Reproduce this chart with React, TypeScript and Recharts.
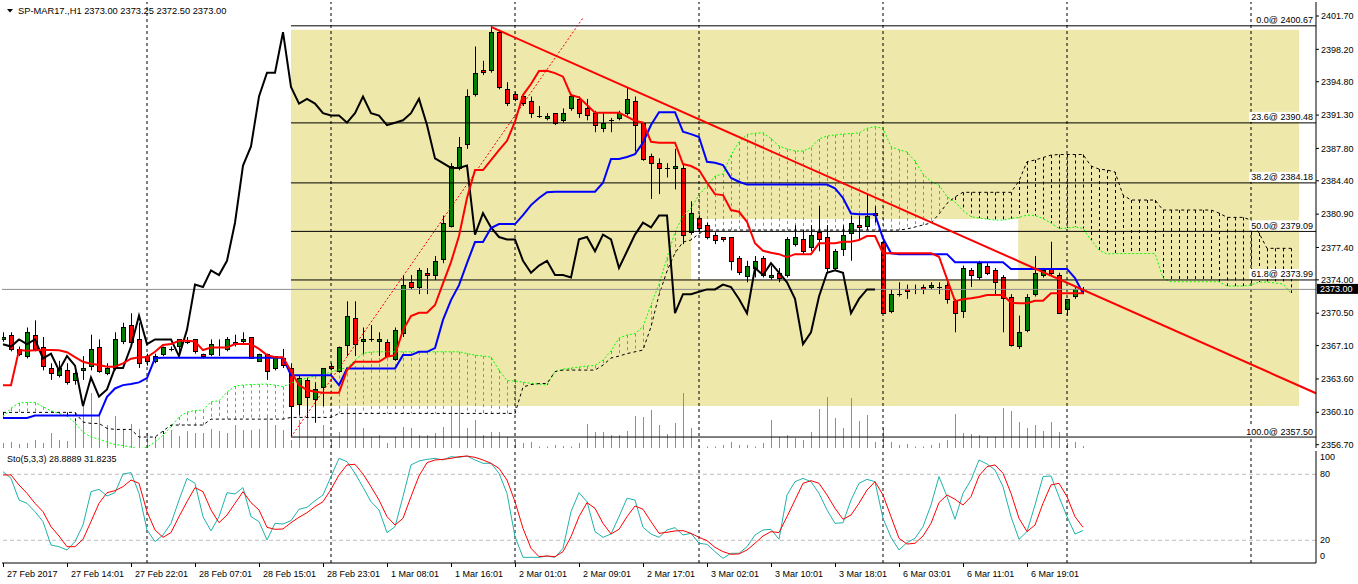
import React from 'react';
import { ComposedChart, Bar, Line, XAxis, YAxis, ReferenceLine, ReferenceArea } from 'recharts';

// ---------- candles (H1 bars, index 0 = 27 Feb 2017 00:00) ----------
const OPEN = [
  2367.75, 2368.25, 2366.75, 2366.0, 2368.25, 2367.0, 2364.75, 2364.0, 2364.5, 2363.5,
  2364.5, 2365.0, 2367.0, 2364.25, 2364.75, 2367.5, 2369.25, 2367.75, 2366.0, 2365.5,
  2366.25, 2366.75, 2367.0, 2367.5, 2367.75, 2366.25, 2366.25, 2367.0, 2366.75, 2367.5,
  2367.5, 2368.0, 2365.5, 2366.25, 2364.75, 2365.75, 2364.75, 2361.0, 2363.5, 2361.5,
  2362.75, 2365.0, 2364.5, 2367.25, 2370.0, 2367.5, 2367.75, 2367.5, 2367.5, 2365.75,
  2368.5, 2373.75, 2373.25, 2374.75, 2374.5, 2376.25, 2379.75, 2385.75, 2388.25, 2393.5,
  2396.0, 2396.0, 2400.0, 2394.0, 2393.5, 2393.25, 2392.75, 2391.25, 2391.0, 2391.5,
  2390.75, 2392.0, 2393.0, 2392.0, 2391.5, 2390.0, 2390.75, 2391.0, 2391.5, 2392.75,
  2390.5, 2387.0, 2386.25, 2385.75, 2385.75, 2385.75, 2379.0, 2380.5, 2379.75, 2378.75,
  2378.5, 2378.5, 2376.25, 2374.5, 2375.25, 2376.25, 2374.25, 2374.75, 2374.5, 2377.75,
  2378.25, 2377.5, 2379.0, 2378.5, 2375.25, 2377.25, 2379.0, 2379.75, 2379.75, 2381.0,
  2378.0, 2370.75, 2372.5, 2373.0, 2373.0, 2373.25, 2373.25, 2373.25, 2373.5, 2371.75,
  2370.75, 2375.0, 2374.25, 2375.5, 2375.0, 2374.25, 2372.25, 2367.0, 2368.75, 2372.5,
  2374.5, 2375.25, 2374.5, 2371.0, 2372.25, 2373.0,
];
const HIGH = [
  2368.5, 2368.5, 2367.0, 2369.0, 2369.75, 2368.0, 2365.25, 2365.5, 2365.25, 2365.0,
  2366.0, 2368.25, 2367.75, 2365.25, 2368.5, 2369.5, 2370.5, 2369.5, 2366.25, 2366.25,
  2367.0, 2367.0, 2367.75, 2368.0, 2367.75, 2366.25, 2367.75, 2367.75, 2368.0, 2368.25,
  2368.5, 2368.0, 2366.25, 2366.25, 2366.0, 2366.75, 2365.25, 2364.0, 2363.75, 2363.25,
  2364.75, 2365.25, 2367.0, 2371.75, 2371.75, 2369.0, 2369.25, 2368.5, 2367.75, 2369.0,
  2374.5, 2374.5, 2375.25, 2375.25, 2376.5, 2380.75, 2386.25, 2389.0, 2394.0, 2398.5,
  2397.0, 2400.67, 2400.25, 2394.75, 2393.75, 2393.5, 2393.25, 2392.25, 2391.5, 2391.5,
  2392.0, 2393.5, 2393.25, 2393.0, 2391.75, 2391.5, 2391.0, 2391.75, 2394.25, 2393.25,
  2390.5, 2387.25, 2386.75, 2386.25, 2387.75, 2386.25, 2382.25, 2380.75, 2380.0, 2379.0,
  2378.5, 2378.5, 2376.5, 2376.0, 2376.5, 2376.5, 2375.5, 2375.25, 2378.5, 2379.75,
  2379.25, 2379.75, 2381.75, 2379.75, 2377.25, 2379.75, 2380.75, 2380.75, 2383.0, 2381.75,
  2378.25, 2373.0, 2373.75, 2373.5, 2373.5, 2373.5, 2373.75, 2373.75, 2373.75, 2372.0,
  2375.5, 2375.25, 2376.0, 2375.75, 2375.25, 2374.5, 2372.5, 2370.25, 2372.5, 2376.5,
  2375.25, 2378.0, 2374.75, 2372.0, 2373.25, 2373.25,
];
const LOW = [
  2367.5, 2366.5, 2366.0, 2365.75, 2366.5, 2364.5, 2363.5, 2363.75, 2363.0, 2363.0,
  2363.5, 2364.5, 2364.25, 2364.0, 2364.5, 2367.25, 2367.25, 2364.75, 2365.0, 2365.25,
  2366.0, 2366.5, 2366.0, 2367.25, 2366.25, 2365.75, 2366.0, 2366.0, 2366.5, 2367.0,
  2367.25, 2365.75, 2365.5, 2363.5, 2364.5, 2364.75, 2357.5, 2359.75, 2359.5, 2359.0,
  2360.75, 2364.5, 2364.25, 2366.0, 2366.0, 2366.25, 2367.5, 2366.0, 2366.0, 2365.5,
  2368.0, 2373.0, 2372.5, 2372.5, 2374.0, 2375.75, 2379.5, 2385.5, 2387.75, 2393.25,
  2395.5, 2395.75, 2394.0, 2392.25, 2392.75, 2392.25, 2391.0, 2391.0, 2390.75, 2390.25,
  2390.5, 2391.75, 2391.0, 2390.75, 2389.5, 2389.5, 2389.5, 2390.75, 2391.25, 2387.5,
  2386.5, 2382.5, 2383.0, 2384.75, 2383.5, 2377.75, 2378.75, 2379.0, 2378.25, 2377.75,
  2378.0, 2375.0, 2374.5, 2373.75, 2374.25, 2374.25, 2374.0, 2373.75, 2374.25, 2377.5,
  2376.75, 2377.0, 2377.0, 2374.75, 2375.0, 2376.5, 2376.0, 2378.25, 2379.25, 2380.0,
  2370.5, 2370.5, 2372.25, 2372.0, 2372.5, 2372.5, 2373.0, 2372.5, 2371.5, 2368.5,
  2370.0, 2373.25, 2374.0, 2374.5, 2372.5, 2368.5, 2367.0, 2366.75, 2368.5, 2372.25,
  2374.25, 2374.5, 2370.5, 2370.25, 2372.0, 2372.5,
];
const CLOSE = [
  2368.0, 2366.75, 2366.25, 2368.5, 2366.75, 2365.0, 2364.25, 2364.75, 2363.25, 2364.25,
  2364.75, 2366.75, 2364.5, 2364.75, 2367.75, 2369.0, 2367.5, 2365.25, 2365.5, 2366.0,
  2367.0, 2366.75, 2367.75, 2367.5, 2366.5, 2366.0, 2367.25, 2367.0, 2367.75, 2367.25,
  2367.75, 2365.75, 2366.25, 2364.5, 2366.0, 2365.0, 2360.75, 2363.75, 2361.75, 2362.5,
  2364.75, 2364.75, 2367.0, 2370.25, 2367.25, 2367.75, 2367.75, 2367.75, 2366.0, 2368.75,
  2373.5, 2373.25, 2375.0, 2374.5, 2376.0, 2380.0, 2386.0, 2388.0, 2393.25, 2395.75,
  2395.75, 2400.0, 2394.25, 2392.5, 2393.0, 2392.5, 2391.5, 2391.25, 2391.25, 2390.5,
  2391.5, 2393.25, 2391.5, 2391.25, 2390.25, 2390.5, 2390.75, 2391.5, 2393.0, 2390.25,
  2386.75, 2386.25, 2385.75, 2385.75, 2386.0, 2378.75, 2381.0, 2379.5, 2378.5, 2378.25,
  2378.25, 2376.0, 2374.75, 2375.5, 2376.0, 2374.5, 2374.5, 2374.25, 2378.25, 2378.5,
  2377.0, 2378.75, 2378.25, 2375.25, 2377.0, 2378.75, 2380.0, 2379.5, 2380.75, 2380.75,
  2370.5, 2372.5, 2372.5, 2372.75, 2373.0, 2373.0, 2373.5, 2373.25, 2372.0, 2370.5,
  2375.25, 2374.5, 2375.75, 2374.75, 2373.75, 2372.0, 2367.25, 2368.5, 2372.25, 2374.75,
  2375.0, 2374.75, 2370.5, 2372.0, 2373.0, 2373.0,
];
const VOLUME = [
  500, 600, 400, 500, 800, 500, 1500, 800, 700, 2700,
  4500, 5500, 3200, 2300, 3200, 1800, 2400, 1900, 1500, 1000,
  1300, 1800, 1200, 1700, 1500, 1500, 1900, 1700, 1500, 2300,
  1800, 1800, 1900, 3200, 2300, 1800, 800, 2800, 3100, 1100,
  2300, 800, 1600, 4100, 3800, 2000, 1100, 1300, 500, 1100,
  2100, 2000, 1300, 1300, 1500, 2100, 4100, 4500, 2000, 2800,
  1300, 1600, 1600, 1100, 600, 500, 600, 150, 150, 300,
  200, 150, 500, 2400, 1600, 1600, 1300, 1300, 1700, 3200,
  3100, 3800, 2300, 1400, 2500, 5500, 2000, 150, 150, 150,
  300, 600, 300, 300, 150, 500, 2800, 1100, 1300, 1000,
  800, 1600, 3900, 5100, 3000, 2000, 5000, 2700, 3300, 600,
  2000, 600, 300, 400, 150, 150, 300, 500, 800, 3400,
  1500, 1400, 1300, 1100, 1100, 4000, 3700, 2600, 2000, 2300,
  1700, 2600, 1600, 500, 600, 200,
];

// ---------- Ichimoku (9, 26, 52) ----------
const TENKAN = [
  2362.95, 2362.95, 2366.63, 2366.55, 2366.6, 2366.63, 2366.63, 2366.6, 2366.4, 2365.9,
  2365.4, 2365.2, 2365.06, 2364.88, 2364.88, 2365.23, 2365.72, 2365.87, 2365.87, 2366.45,
  2367.16, 2367.26, 2367.6, 2367.6, 2367.53, 2366.63, 2366.9, 2366.9, 2366.9, 2367.26,
  2367.26, 2367.26, 2366.75, 2366.1, 2365.87, 2365.87, 2364.4, 2362.95, 2362.43, 2362.25,
  2362.15, 2362.15, 2362.15, 2364.53, 2365.4, 2365.4, 2365.4, 2365.4, 2365.93, 2366.1,
  2368.73, 2370.2, 2370.55, 2370.55, 2371.36, 2373.63, 2375.87, 2378.6, 2382.6, 2385.53,
  2385.53, 2386.58, 2387.63, 2388.6, 2390.6, 2393.4, 2394.56, 2395.93, 2395.96, 2395.7,
  2395.33, 2393.4, 2393.16, 2392.36, 2391.55, 2391.55, 2391.55, 2391.55, 2391.13, 2390.7,
  2390.5, 2388.5, 2388.4, 2388.4, 2388.4, 2386.16, 2385.95, 2385.53, 2384.2, 2383.0,
  2382.9, 2381.33, 2381.15, 2380.1, 2377.84, 2377.06, 2376.85, 2376.7, 2376.37, 2376.7,
  2376.7, 2376.7, 2377.84, 2377.84, 2377.84, 2378.0, 2378.0, 2378.18, 2378.6, 2378.6,
  2376.8, 2376.8, 2376.8, 2376.8, 2376.8, 2376.8, 2376.8, 2376.43, 2374.1, 2371.77,
  2371.96, 2372.06, 2372.2, 2372.4, 2372.4, 2372.4, 2371.6, 2371.54, 2371.54, 2371.8,
  2371.8, 2372.59, 2372.59, 2372.59, 2372.59, 2372.59,
];
const KIJUN = [
  2359.5, 2359.5, 2359.5, 2359.5, 2359.75, 2359.75, 2359.75, 2359.75, 2359.75, 2359.75,
  2359.75, 2359.75, 2359.75, 2361.73, 2362.6, 2362.95, 2363.06, 2363.24, 2363.69, 2365.79,
  2365.82, 2365.82, 2365.82, 2365.82, 2365.82, 2365.82, 2365.82, 2365.82, 2365.82, 2365.82,
  2365.82, 2365.82, 2365.82, 2365.82, 2365.82, 2365.82, 2364.0, 2364.0, 2364.0, 2364.0,
  2364.0, 2364.0, 2362.95, 2364.7, 2364.7, 2364.7, 2364.7, 2364.7, 2364.7, 2364.7,
  2366.1, 2366.1, 2366.45, 2366.45, 2366.84, 2369.8, 2371.88, 2373.45, 2375.76, 2377.97,
  2377.97, 2379.44, 2379.86, 2379.86, 2379.86, 2380.8, 2381.85, 2382.6, 2383.2, 2383.25,
  2383.25, 2383.25, 2383.25, 2383.25, 2383.25, 2384.2, 2386.7, 2386.7, 2386.9, 2387.2,
  2388.4, 2390.25, 2391.6, 2391.6, 2391.6, 2389.55, 2389.3, 2389.0, 2386.4, 2386.3,
  2386.05, 2384.7, 2384.3, 2384.0, 2384.0, 2384.0, 2384.0, 2384.0, 2384.0, 2384.0,
  2384.0, 2384.0, 2384.0, 2384.0, 2383.6, 2382.6, 2380.97, 2380.9, 2380.9, 2380.9,
  2378.36, 2376.8, 2376.7, 2376.7, 2376.7, 2376.7, 2376.7, 2376.7, 2376.7, 2375.85,
  2375.85, 2375.85, 2375.85, 2375.85, 2375.85, 2375.85, 2375.15, 2375.15, 2375.15, 2375.15,
  2375.15, 2375.15, 2375.15, 2375.15, 2374.2, 2372.6,
];
const CHIKOU = [
  2367.25, 2367.0, 2367.75, 2367.25, 2367.75, 2365.75, 2366.25, 2364.5, 2366.0, 2365.0,
  2360.75, 2363.75, 2361.75, 2362.5, 2364.75, 2364.75, 2367.0, 2370.25, 2367.25, 2367.75,
  2367.75, 2367.75, 2366.0, 2368.75, 2373.5, 2373.25, 2375.0, 2374.5, 2376.0, 2380.0,
  2386.0, 2388.0, 2393.25, 2395.75, 2395.75, 2400.0, 2394.25, 2392.5, 2393.0, 2392.5,
  2391.5, 2391.25, 2391.25, 2390.5, 2391.5, 2393.25, 2391.5, 2391.25, 2390.25, 2390.5,
  2390.75, 2391.5, 2393.0, 2390.25, 2386.75, 2386.25, 2385.75, 2385.75, 2386.0, 2378.75,
  2381.0, 2379.5, 2378.5, 2378.25, 2378.25, 2376.0, 2374.75, 2375.5, 2376.0, 2374.5,
  2374.5, 2374.25, 2378.25, 2378.5, 2377.0, 2378.75, 2378.25, 2375.25, 2377.0, 2378.75,
  2380.0, 2379.5, 2380.75, 2380.75, 2370.5, 2372.5, 2372.5, 2372.75, 2373.0, 2373.0,
  2373.5, 2373.25, 2372.0, 2370.5, 2375.25, 2374.5, 2375.75, 2374.75, 2373.75, 2372.0,
  2367.25, 2368.5, 2372.25, 2374.75, 2375.0, 2374.75, 2370.5, 2372.0, 2373.0, 2373.0,
];
const SPAN_A = [
  2359.6, 2360.54, 2361.07, 2361.14, 2361.14, 2360.68, 2360.26, 2359.96, 2359.7, 2358.97,
  2358.02, 2357.5, 2357.29, 2356.97, 2356.71, 2356.6, 2356.45, 2356.24, 2356.45, 2356.97,
  2357.7, 2358.6, 2359.6, 2360.12, 2360.28, 2360.33, 2361.2, 2361.3, 2362.22, 2362.85,
  2362.96, 2363.01, 2363.04, 2363.06, 2362.96, 2362.78, 2363.17, 2363.48, 2363.69, 2363.9,
  2364.06, 2364.32, 2364.58, 2364.79, 2365.58, 2366.28, 2366.42, 2366.45, 2366.45, 2366.45,
  2366.45, 2366.45, 2366.45, 2366.45, 2366.45, 2366.45, 2366.45, 2366.45, 2366.26, 2366.1,
  2366.0, 2365.89, 2364.53, 2363.43, 2363.38, 2363.27, 2363.13, 2363.06, 2362.96, 2364.37,
  2364.63, 2364.74, 2364.85, 2364.95, 2365.02, 2365.58, 2366.53, 2367.89, 2368.21, 2368.36,
  2369.08, 2371.36, 2373.56, 2376.29, 2379.02, 2380.7, 2381.54, 2382.91, 2383.85, 2384.9,
  2385.11, 2387.11, 2388.47, 2389.26, 2389.38, 2389.45, 2388.84, 2388.05, 2387.74, 2387.53,
  2387.53, 2387.89, 2388.79, 2389.1, 2389.21, 2389.31, 2389.36, 2389.42, 2389.91, 2390.08,
  2389.91, 2387.98, 2387.66, 2387.42, 2386.47, 2385.11, 2384.32, 2383.96, 2382.73, 2382.17,
  2381.28, 2380.63, 2380.49, 2380.38, 2380.28, 2380.28, 2380.44, 2380.56, 2380.8, 2380.75,
  2380.44, 2379.97, 2379.39, 2379.44, 2379.55, 2379.41, 2378.18, 2377.13, 2376.71, 2376.76,
  2376.76, 2376.76, 2376.76, 2376.76, 2376.76, 2374.19, 2373.8, 2373.8, 2373.8, 2373.8,
  2373.8, 2373.8, 2373.8, 2373.35, 2373.35, 2373.35, 2373.46, 2373.77, 2373.77, 2373.67,
  2373.56, 2372.62,
];
const SPAN_B = [
  2360.09, 2360.09, 2360.09, 2360.09, 2360.09, 2360.09, 2360.09, 2360.09, 2360.09, 2360.09,
  2359.07, 2358.93, 2358.93, 2358.41, 2358.3, 2358.3, 2358.3, 2357.5, 2357.5, 2357.5,
  2358.13, 2358.76, 2358.76, 2358.76, 2358.76, 2358.76, 2359.38, 2359.38, 2359.38, 2359.38,
  2359.38, 2359.38, 2359.38, 2359.38, 2359.38, 2359.38, 2359.56, 2359.56, 2359.56, 2359.56,
  2359.56, 2359.56, 2359.98, 2359.98, 2359.98, 2359.98, 2359.98, 2359.98, 2359.98, 2359.98,
  2359.98, 2359.98, 2359.98, 2359.98, 2359.98, 2359.98, 2359.98, 2359.98, 2359.98, 2359.98,
  2359.98, 2359.98, 2359.98, 2359.98, 2359.98, 2362.75, 2363.01, 2363.11, 2363.13, 2364.37,
  2364.53, 2364.53, 2364.53, 2364.53, 2364.53, 2365.05, 2365.79, 2366.0, 2366.26, 2366.45,
  2366.63, 2369.08, 2372.41, 2374.92, 2376.82, 2377.97, 2378.18, 2378.86, 2379.23, 2379.23,
  2379.23, 2379.23, 2379.23, 2379.23, 2379.23, 2379.23, 2379.23, 2379.23, 2379.23, 2379.23,
  2379.23, 2379.23, 2379.23, 2379.23, 2379.23, 2379.23, 2379.23, 2379.23, 2379.23, 2379.23,
  2379.23, 2379.23, 2379.23, 2379.34, 2379.55, 2379.76, 2379.97, 2380.91, 2382.03, 2382.7,
  2383.19, 2383.19, 2383.19, 2383.19, 2383.19, 2383.19, 2383.19, 2384.38, 2386.4, 2386.58,
  2386.84, 2387.1, 2387.16, 2387.16, 2387.16, 2387.16, 2385.95, 2385.63, 2385.53, 2385.32,
  2382.91, 2382.38, 2382.38, 2382.38, 2382.38, 2381.33, 2381.33, 2381.33, 2381.33, 2381.33,
  2381.33, 2381.33, 2381.02, 2380.56, 2380.56, 2380.56, 2380.28, 2378.92, 2377.31, 2377.31,
  2377.31, 2377.31,
];

// ---------- Stochastic (5,3,3) ----------
const STOCH_K = [
  82.4, 76.3, 56.6, 53.6, 46.0, 37.0, 15.7, 14.2, 11.2, 18.8,
  33.9, 64.2, 66.3, 60.3, 63.3, 80.3, 81.5, 62.7, 29.4, 18.8,
  24.8, 35.4, 56.6, 76.3, 71.8, 41.5, 28.5, 41.5, 63.3, 62.1,
  67.9, 41.5, 37.0, 20.3, 35.4, 34.8, 37.9, 48.2, 50.0, 56.0,
  61.2, 77.9, 94.5, 91.5, 80.9, 68.2, 55.1, 47.6, 27.0, 32.4,
  59.7, 88.5, 92.1, 93.6, 94.5, 93.0, 96.0, 95.4, 96.6, 93.0,
  90.0, 90.0, 80.9, 62.7, 23.3, 4.5, 4.5, 4.5, 5.7, 4.5,
  12.7, 46.0, 63.3, 55.1, 27.9, 22.7, 25.7, 41.5, 58.2, 56.6,
  31.8, 25.7, 22.7, 29.4, 31.5, 24.8, 26.3, 17.3, 16.3, 9.7,
  3.6, 8.2, 8.2, 14.2, 24.8, 29.4, 30.0, 20.9, 61.2, 73.3,
  76.3, 73.3, 62.7, 47.6, 35.4, 36.0, 56.6, 71.8, 75.4, 73.3,
  40.0, 22.7, 11.2, 17.9, 21.8, 32.4, 52.1, 77.9, 59.7, 39.1,
  62.7, 74.8, 93.0, 89.4, 83.9, 68.8, 41.5, 20.9, 27.9, 52.1,
  77.9, 78.5, 59.7, 41.5, 25.7, 28.8889,
];
const STOCH_D = [
  79.4, 79.4, 70.3, 62.7, 53.6, 46.0, 32.4, 23.9, 14.2, 14.2,
  20.9, 37.0, 53.6, 63.3, 65.1, 68.8, 74.8, 71.8, 46.0, 29.4,
  22.7, 27.0, 41.5, 55.1, 67.9, 64.2, 47.6, 36.0, 43.0, 53.6,
  64.2, 54.2, 47.6, 31.8, 30.0, 30.3, 36.0, 40.9, 45.1, 50.6,
  55.1, 66.3, 79.4, 88.5, 89.1, 80.3, 68.8, 56.6, 41.5, 33.9,
  40.0, 59.7, 78.5, 90.6, 93.0, 93.6, 94.5, 96.0, 96.6, 95.4,
  93.0, 90.0, 85.4, 74.8, 55.1, 30.9, 12.7, 5.1, 5.7, 5.1,
  9.7, 23.3, 41.5, 54.2, 49.1, 35.4, 25.7, 30.0, 41.5, 51.2,
  48.2, 37.0, 26.3, 27.3, 28.5, 28.8, 26.3, 22.7, 19.7, 13.6,
  9.7, 7.3, 7.6, 11.2, 17.3, 23.9, 27.9, 27.0, 41.5, 56.6,
  71.8, 74.2, 71.8, 61.2, 49.1, 39.1, 43.0, 53.6, 65.7, 73.3,
  61.2, 41.5, 21.8, 16.6, 17.3, 23.9, 35.4, 54.2, 61.2, 57.3,
  52.1, 59.7, 78.5, 87.0, 88.5, 80.9, 62.7, 40.0, 27.9, 33.9,
  53.6, 70.3, 71.8, 59.7, 41.5, 31.8235,
];

// ---------- axis labels ----------
const DATE_TICKS = [0, 8, 16, 24, 32, 40, 48, 56, 64, 72, 80, 88, 96, 104, 112, 120, 128];
const DATE_LABELS = [
  '27 Feb 2017', '27 Feb 14:01', '27 Feb 22:01', '28 Feb 07:01', '28 Feb 15:01', '28 Feb 23:01',
  '1 Mar 08:01', '1 Mar 16:01', '2 Mar 01:01', '2 Mar 09:01', '2 Mar 17:01', '3 Mar 02:01',
  '3 Mar 10:01', '3 Mar 18:01', '6 Mar 03:01', '6 Mar 11:01', '6 Mar 19:01',
];
const PRICE_TICKS = [2401.7, 2398.2, 2394.8, 2391.3, 2387.8, 2384.4, 2380.9, 2377.4, 2374.0, 2370.5, 2367.1, 2363.6, 2360.1, 2356.7];
const STOCH_TICKS = [0, 20, 80, 100];
const STOCH_LEVELS = [20, 80];
const GRID_BARS = [18, 41, 64, 87, 110, 133, 156];

// ---------- drawn objects ----------
const FIB_START = 36;
const FIB_LEVELS = [
  { pct: '0.0', price: 2400.67 },
  { pct: '23.6', price: 2390.48 },
  { pct: '38.2', price: 2384.18 },
  { pct: '50.0', price: 2379.09 },
  { pct: '61.8', price: 2373.99 },
  { pct: '100.0', price: 2357.5 },
];
const FIB_BASE = [{ x: 36, y: 2357.5 }, { x: 72.5, y: 2401.5 }];
const TREND = [{ x: 61, y: 2400.55 }, { x: 164.125, y: 2362.1 }];
const YELLOW_BOX = { x1: 36, x2: 162, y1: 2360.75, y2: 2400.25 };
const WHITE_BOX = { x1: 86, x2: 126.9, y1: 2374.0, y2: 2380.4 };

const X_DOMAIN: [number, number] = [-0.125, 164.125];
const P_DOMAIN: [number, number] = [2356.35, 2403.17];
const S_DOMAIN: [number, number] = [-0.64, 101.18];
const V_DOMAIN: [number, number] = [0, 44600];

const rows = SPAN_A.map((a, i) => ({
  i,
  o: OPEN[i] ?? null,
  h: HIGH[i] ?? null,
  l: LOW[i] ?? null,
  c: CLOSE[i] ?? null,
  tenkan: TENKAN[i] ?? null,
  kijun: KIJUN[i] ?? null,
  chikou: CHIKOU[i] ?? null,
  a,
  b: SPAN_B[i],
  v: VOLUME[i] ?? null,
  k: STOCH_K[i] ?? null,
  d: STOCH_D[i] ?? null,
}));

const FONT = "'Liberation Sans', Arial, sans-serif";

const lineBox = (vb: any) => {
  if (!vb) return { x1: 0, x2: 0, y: 0 };
  if (vb.x1 != null) return { x1: Math.min(vb.x1, vb.x2), x2: Math.max(vb.x1, vb.x2), y: vb.y1 };
  return { x1: vb.x, x2: vb.x + (vb.width || 0), y: vb.y };
};

function Candle(props: any) {
  const { x, y, width, height, payload } = props;
  if (!payload || payload.o == null || x == null || y == null) return <g />;
  const { o, h, l, c } = payload;
  const top = Math.min(y, y + height);
  const bot = Math.max(y, y + height);
  const span = h - l || 1;
  const py = (p: number) => top + ((h - p) / span) * (bot - top);
  const n = Math.round(x + width / 2);
  const cx = n + 0.5;
  const yo = py(o);
  const yc = py(c);
  const bt = Math.min(yo, yc);
  const bb = Math.max(yo, yc);
  const fill = c > o ? '#008000' : '#FF0000';
  return (
    <g>
      <line x1={cx} x2={cx} y1={top} y2={bot} stroke="#000" strokeWidth={1} />
      {Math.abs(c - o) < 0.01 ? (
        <line x1={n - 2} x2={n + 3} y1={Math.round(yo) + 0.5} y2={Math.round(yo) + 0.5} stroke="#000" strokeWidth={1} />
      ) : (
        <rect x={n - 1.5} y={Math.round(bt) + 0.5} width={4} height={Math.max(Math.round(bb - bt), 1)} fill={fill} stroke="#000" strokeWidth={1} />
      )}
    </g>
  );
}

function Hatch(props: any) {
  const { x, y, width, height, payload } = props;
  if (!payload || payload.a == null || x == null || y == null) return <g />;
  const n = Math.round(x + width / 2);
  const top = Math.min(y, y + height);
  const bot = Math.max(y, y + height);
  const up = payload.a >= payload.b;
  const segs: any[] = [];
  for (let s = top; s < bot; s += 6) {
    segs.push(<rect key={s} x={n} y={s} width={1} height={Math.min(3, bot - s)} fill={up ? '#00F000' : '#000000'} />);
  }
  return <g>{segs}</g>;
}

function VolumeStick(props: any) {
  const { x, y, width, height, payload } = props;
  if (!payload || payload.v == null || x == null || y == null) return <g />;
  const n = Math.round(x + width / 2);
  const top = Math.min(y, y + height);
  const h = Math.abs(height);
  return <rect x={n} y={top} width={1} height={h} fill="#3CC83C" />;
}

const fibLabel = (text: string) => (props: any) => {
  const { x2, y } = lineBox(props.viewBox);
  const w = text.length * 4.75 + 3;
  return (
    <g>
      <rect x={x2 - 2 - w} y={y - 11} width={w + 1} height={10} fill="#fff" />
      <text x={x2 - 3} y={y - 2.5} textAnchor="end" fontSize={9} fontFamily={FONT} fill="#000">{text}</text>
    </g>
  );
};

const lastClose = CLOSE[CLOSE.length - 1];
const priceBox = (props: any) => {
  const { x2, y } = lineBox(props.viewBox);
  return (
    <g>
      <rect x={x2 + 1} y={y - 5.5} width={42} height={10} fill="#000" />
      <text x={x2 + 4} y={y + 3} fontSize={9} fontFamily={FONT} fill="#fff">{lastClose.toFixed(2)}</text>
    </g>
  );
};

const DateTick = (p: any) => {
  const idx = DATE_TICKS.indexOf(p.payload.value);
  const x = Math.round(p.x) + 0.5;
  return (
    <g>
      <line x1={x} x2={x} y1={p.y} y2={p.y + 4} stroke="#000" />
      <text x={p.x + 4} y={p.y + 13.5} fontSize={9} fontFamily={FONT} fill="#000">{DATE_LABELS[idx]}</text>
    </g>
  );
};

const StochTick = (p: any) => {
  const v = p.payload.value;
  const off = v === 100 ? 5 : v === 0 ? -6 : 0;
  return (
    <text x={p.x} y={p.y + off + 3} fontSize={9} fontFamily={FONT} fill="#000">{v}</text>
  );
};

export default function App() {
  return (
    <div style={{ position: 'absolute', left: 0, top: 0, width: 1358, height: 584, background: '#fff', fontFamily: FONT }}>
      <div style={{ position: 'absolute', left: 0, top: 0 }}>
        <ComposedChart width={1358} height={449} data={rows} margin={{ top: 2, right: 0, bottom: 1, left: 2 }}>
          <XAxis xAxisId={0} dataKey="i" type="number" domain={X_DOMAIN} allowDataOverflow height={0} tick={false} tickLine={false} axisLine={{ stroke: '#000' }} />
          <XAxis xAxisId="top" orientation="top" dataKey="i" type="number" domain={X_DOMAIN} allowDataOverflow height={0} tick={false} tickLine={false} axisLine={{ stroke: '#000' }} />
          <XAxis xAxisId="hx" dataKey="i" type="number" domain={X_DOMAIN} allowDataOverflow hide />
          <XAxis xAxisId="vx" dataKey="i" type="number" domain={X_DOMAIN} allowDataOverflow hide />
          <YAxis yAxisId="price" orientation="right" width={42} type="number" domain={P_DOMAIN} allowDataOverflow ticks={PRICE_TICKS} interval={0}
            tickFormatter={(v: number) => v.toFixed(2)} tick={{ fontSize: 9, fill: '#000', fontFamily: FONT }} tickSize={3} tickMargin={2}
            tickLine={{ stroke: '#000' }} axisLine={{ stroke: '#000' }} />
          <YAxis yAxisId="left" orientation="left" width={0} type="number" domain={P_DOMAIN} allowDataOverflow tick={false} tickLine={false} axisLine={{ stroke: '#000' }} />
          <YAxis yAxisId="vol" type="number" domain={V_DOMAIN} allowDataOverflow hide />

          <ReferenceArea yAxisId="price" x1={YELLOW_BOX.x1} x2={YELLOW_BOX.x2} y1={YELLOW_BOX.y1} y2={YELLOW_BOX.y2} fill="#EEE8AA" fillOpacity={1} stroke="none" />
          <ReferenceArea yAxisId="price" x1={WHITE_BOX.x1} x2={WHITE_BOX.x2} y1={WHITE_BOX.y1} y2={WHITE_BOX.y2} fill="#FFFFFF" fillOpacity={1} stroke="none" />
          {GRID_BARS.map((g) => (
            <ReferenceLine key={'g' + g} yAxisId="price" x={g} stroke="#000" strokeDasharray="3 3" />
          ))}

          <Bar xAxisId="hx" yAxisId="price" dataKey={(d: any) => (d.a == null ? null : [Math.min(d.a, d.b), Math.max(d.a, d.b)])} barSize={1} shape={<Hatch />} isAnimationActive={false} />
          <Line yAxisId="price" dataKey="a" stroke="#00FF00" strokeWidth={1} strokeDasharray="2 2" dot={false} activeDot={false} isAnimationActive={false} />
          <Line yAxisId="price" dataKey="b" stroke="#000" strokeWidth={1} strokeDasharray="3 3" dot={false} activeDot={false} isAnimationActive={false} />
          <Bar xAxisId="vx" yAxisId="vol" dataKey="v" barSize={1} shape={<VolumeStick />} isAnimationActive={false} />

          {FIB_LEVELS.map((f) => (
            <ReferenceLine key={'f' + f.pct} yAxisId="price" segment={[{ x: FIB_START, y: f.price }, { x: X_DOMAIN[1], y: f.price }]} stroke="#000" strokeWidth={1}
              label={fibLabel(`${f.pct}@ ${f.price.toFixed(2)}`)} />
          ))}
          <ReferenceLine yAxisId="price" y={lastClose} stroke="#8C8C8C" strokeWidth={1} label={priceBox} />

          <Bar xAxisId={0} yAxisId="price" dataKey={(d: any) => (d.o == null ? null : [d.l, d.h])} barSize={5} shape={<Candle />} isAnimationActive={false} />

          <Line yAxisId="price" dataKey="chikou" stroke="#000" strokeWidth={2} dot={false} activeDot={false} isAnimationActive={false} />
          <Line yAxisId="price" dataKey="kijun" stroke="#0000FF" strokeWidth={2} dot={false} activeDot={false} isAnimationActive={false} />
          <Line yAxisId="price" dataKey="tenkan" stroke="#FF0000" strokeWidth={2} dot={false} activeDot={false} isAnimationActive={false} />

          <ReferenceLine yAxisId="price" segment={FIB_BASE} stroke="#FF0000" strokeWidth={1} strokeDasharray="2 2" />
          <ReferenceLine yAxisId="price" segment={TREND} stroke="#FF0000" strokeWidth={2} />
        </ComposedChart>
      </div>

      <div style={{ position: 'absolute', left: 0, top: 449 }}>
        <ComposedChart width={1358} height={135} data={rows} margin={{ top: 2, right: 0, bottom: 0, left: 2 }}>
          <XAxis xAxisId={0} dataKey="i" type="number" domain={X_DOMAIN} allowDataOverflow height={21} ticks={DATE_TICKS} interval={0}
            tick={<DateTick />} tickSize={0} tickMargin={0} tickLine={false} axisLine={{ stroke: '#000' }} />
          <XAxis xAxisId="top" orientation="top" dataKey="i" type="number" domain={X_DOMAIN} allowDataOverflow height={0} tick={false} tickLine={false} axisLine={{ stroke: '#000' }} />
          <YAxis yAxisId="s" orientation="right" width={42} type="number" domain={S_DOMAIN} allowDataOverflow ticks={STOCH_TICKS} interval={0}
            tick={<StochTick />} tickSize={0} tickMargin={4} tickLine={false} axisLine={{ stroke: '#000' }} />
          <YAxis yAxisId="sl" orientation="left" width={0} type="number" domain={S_DOMAIN} allowDataOverflow tick={false} tickLine={false} axisLine={{ stroke: '#000' }} />

          {STOCH_LEVELS.map((lv) => (
            <ReferenceLine key={'l' + lv} yAxisId="s" y={lv} stroke="#BDBDBD" strokeDasharray="4 3" />
          ))}
          {GRID_BARS.map((g) => (
            <ReferenceLine key={'sg' + g} yAxisId="s" x={g} stroke="#000" strokeDasharray="3 3" />
          ))}
          <Line yAxisId="s" dataKey="k" stroke="#20B2AA" strokeWidth={1} dot={false} activeDot={false} isAnimationActive={false} />
          <Line yAxisId="s" dataKey="d" stroke="#FF0000" strokeWidth={1} dot={false} activeDot={false} isAnimationActive={false} />
        </ComposedChart>
      </div>

      <svg width={1358} height={584} style={{ position: 'absolute', left: 0, top: 0, pointerEvents: 'none' }}>
        <polygon points="7,9 13,9 10,12.5" fill="#000" />
        <text x={18} y={14} fontSize={9.3} fontFamily={FONT} fill="#000">
          {`SP-MAR17.,H1  ${OPEN[OPEN.length - 1].toFixed(2)} ${HIGH[HIGH.length - 1].toFixed(2)} ${LOW[LOW.length - 1].toFixed(2)} ${CLOSE[CLOSE.length - 1].toFixed(2)}`}
        </text>
        <text x={7} y={462} fontSize={9} fontFamily={FONT} fill="#000">
          {`Sto(5,3,3) ${STOCH_K[STOCH_K.length - 1].toFixed(4)} ${STOCH_D[STOCH_D.length - 1].toFixed(4)}`}
        </text>
      </svg>
    </div>
  );
}
